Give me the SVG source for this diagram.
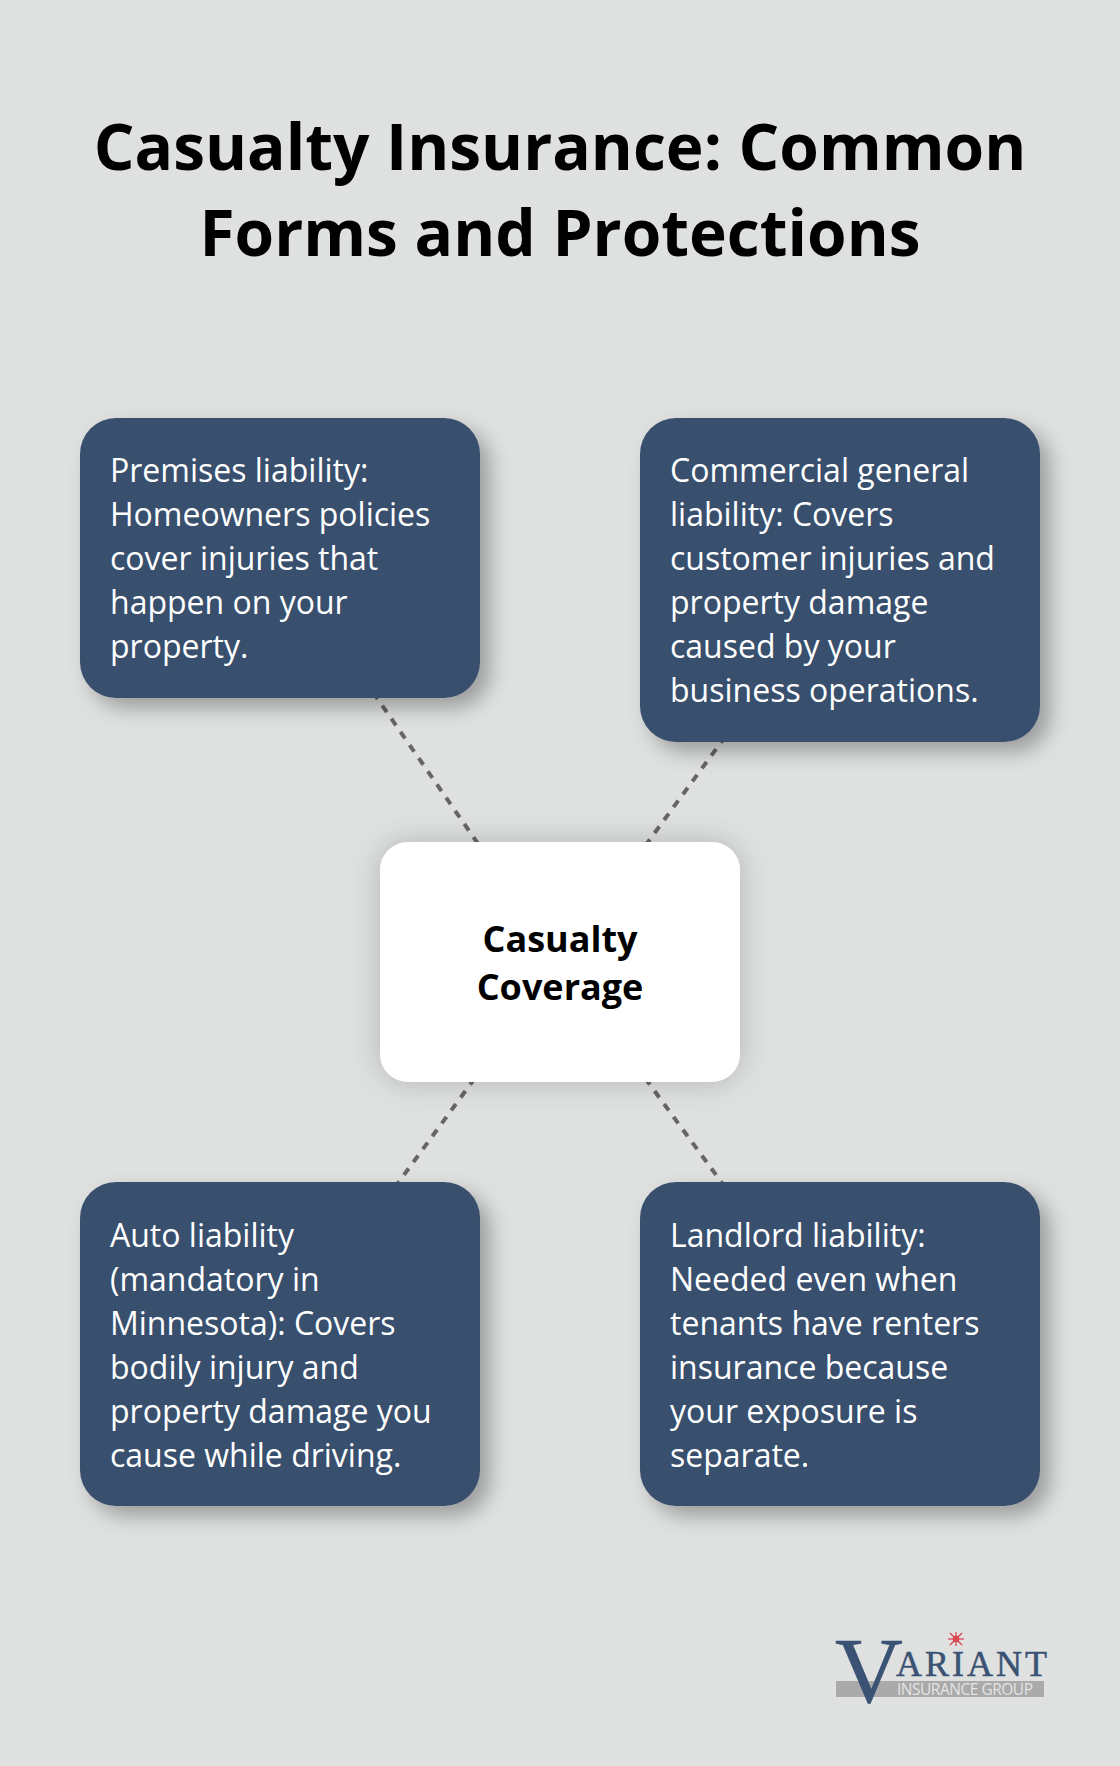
<svg xmlns="http://www.w3.org/2000/svg" width="1120" height="1766" viewBox="0 0 1120 1766">
<style>
.box{fill:#394f6e;filter:url(#s1)}
.t{font-family:"Open Sans",sans-serif;font-size:32px;fill:#fff}
.title{font-family:"Open Sans",sans-serif;font-size:64px;font-weight:700;fill:#000;text-anchor:middle}
.c{font-family:"Open Sans",sans-serif;font-size:36px;font-weight:700;fill:#000;text-anchor:middle}
.l{stroke:#666;stroke-width:4;stroke-dasharray:8 8;fill:none}
</style>
<defs>
<filter id="s1" x="-20%" y="-20%" width="140%" height="140%"><feDropShadow dx="10" dy="10" stdDeviation="10" flood-color="#000" flood-opacity=".3"/></filter>
<filter id="s2" x="-25%" y="-30%" width="150%" height="160%"><feDropShadow dx="0" dy="0" stdDeviation="15" flood-color="#000" flood-opacity=".2"/></filter>
</defs>
<rect width="1120" height="1766" fill="#dfe1e1"/>
<g id="title"><text class="title" x="560" y="170">Casualty Insurance: Common</text><text class="title" x="560" y="256">Forms and Protections</text></g>
<g id="connectors">
<line class="l" x1="560" y1="962" x2="280" y2="558"/>
<line class="l" x1="560" y1="962" x2="840" y2="580"/>
<line class="l" x1="560" y1="962" x2="280" y2="1344"/>
<line class="l" x1="560" y1="962" x2="840" y2="1344"/>
</g>
<g id="n1"><rect class="box" x="80" y="418" width="400" height="280" rx="36"/>
<text class="t" x="110" y="482">Premises liability:</text><text class="t" x="110" y="526">Homeowners policies</text><text class="t" x="110" y="570">cover injuries that</text><text class="t" x="110" y="614">happen on your</text><text class="t" x="110" y="658">property.</text></g>
<g id="n2"><rect class="box" x="640" y="418" width="400" height="324" rx="36"/>
<text class="t" x="670" y="482">Commercial general</text><text class="t" x="670" y="526">liability: Covers</text><text class="t" x="670" y="570">customer injuries and</text><text class="t" x="670" y="614">property damage</text><text class="t" x="670" y="658">caused by your</text><text class="t" x="670" y="702">business operations.</text></g>
<g id="n3"><rect class="box" x="80" y="1182" width="400" height="324" rx="36"/>
<text class="t" x="110" y="1246.5">Auto liability</text><text class="t" x="110" y="1290.5">(mandatory in</text><text class="t" x="110" y="1334.5">Minnesota): Covers</text><text class="t" x="110" y="1378.5">bodily injury and</text><text class="t" x="110" y="1422.5">property damage you</text><text class="t" x="110" y="1466.5">cause while driving.</text></g>
<g id="n4"><rect class="box" x="640" y="1182" width="400" height="324" rx="36"/>
<text class="t" x="670" y="1246.5">Landlord liability:</text><text class="t" x="670" y="1290.5">Needed even when</text><text class="t" x="670" y="1334.5">tenants have renters</text><text class="t" x="670" y="1378.5">insurance because</text><text class="t" x="670" y="1422.5">your exposure is</text><text class="t" x="670" y="1466.5">separate.</text></g>
<g id="center"><rect x="380" y="842" width="360" height="240" rx="28" fill="#fff" filter="url(#s2)"/>
<text class="c" x="560" y="952">Casualty</text><text class="c" x="560" y="1000">Coverage</text></g>
<g id="logo">
<rect x="836" y="1681" width="208" height="16" fill="#aaa"/>
<text x="869" y="1702" font-family="Liberation Serif,serif" font-size="94" fill="#3a5273" stroke="#3a5273" stroke-width=".6" text-anchor="middle">V</text>
<text x="896" y="1676" font-family="Liberation Serif,serif" font-size="36" fill="#3a5273" stroke="#3a5273" stroke-width=".5" textLength="151">ARIANT</text>
<text x="897" y="1695" font-family="Open Sans,sans-serif" font-size="15.5" fill="#e4e4e4" textLength="136">INSURANCE GROUP</text>
<g stroke="#d8404a" stroke-width="1.2"><line x1="948" y1="1639" x2="964" y2="1639"/><line x1="956" y1="1632" x2="956" y2="1646"/><line x1="950" y1="1633" x2="962" y2="1645"/><line x1="950" y1="1645" x2="962" y2="1633"/></g>
<circle cx="956" cy="1639" r="2.5" fill="none" stroke="#d8404a" stroke-width="1.5"/>
</g>
</svg>
